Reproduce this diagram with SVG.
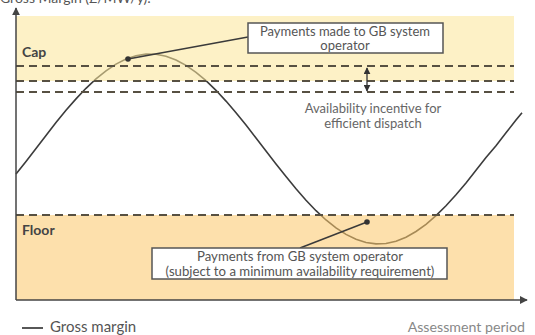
<svg xmlns="http://www.w3.org/2000/svg" width="535" height="335" viewBox="0 0 535 335">
<style>
  text { font-family: Lato, "Open Sans", "Liberation Sans", sans-serif; }
  .dash { stroke: #575042; stroke-width: 2; stroke-dasharray: 8 5; fill: none; }
  .axis { stroke: #444; stroke-width: 1.5; fill: none; }
  .lead { stroke: #3a3a3a; stroke-width: 1.5; fill: none; }
  .box { fill: #fff; stroke: #555; stroke-width: 1.5; }
  .lbl { font-size: 13px; fill: #555; text-anchor: middle; }
  .band { font-size: 14px; font-weight: bold; fill: #444; }
</style>
<defs>
  <marker id="ah" viewBox="0 0 10 10" refX="9" refY="5" markerWidth="8" markerHeight="8" markerUnits="userSpaceOnUse" orient="auto-start-reverse">
    <path d="M0,0 L10,5 L0,10 z" fill="#444"/>
  </marker>
  <marker id="ah2" viewBox="0 0 10 10" refX="9" refY="5" markerWidth="7" markerHeight="7" markerUnits="userSpaceOnUse" orient="auto-start-reverse">
    <path d="M0,0 L10,5 L0,10 z" fill="#333"/>
  </marker>
</defs>
<rect width="535" height="335" fill="#fff"/>
<text x="0" y="3" style="font-size:14px;fill:#555">Gross Margin (£/MW/y):</text>

<g id="curve">
  <polyline fill="none" stroke="#3c3c3c" stroke-width="1.6" points="16,174.1 26,161.4 36,148.4 46,135.4 56,122.6 66,110.3 76,98.9 86,88.3 96,78.9 106,70.8 116,64.1 126,59.1 136,55.7 146,54.1 156,54.3 166,56.3 176,60 186,65.4 196,72.3 206,80.7 216,90.3 226,101.1 236,112.7 246,125.1 256,138 266,151 276,163.9 286,176.6 296,188.8 306,200.2 316,210.7 326,220 336,227.9 346,234.4 356,239.3 366,242.5 376,243.9 386,243.5 396,241.2 406,237.2 416,231.5 426,224.3 436,215.6 446,205.7 456,194.7 466,182.9 476,170.3 486,157.5 496,145.7 506,132.8 516,120.1 522,112.7"/>
</g>

<g id="cap-band">
  <rect x="16" y="16" width="498" height="65" fill="#fce69a" fill-opacity="0.56"/>
  <text class="band" x="22" y="57">Cap</text>
</g>
<g id="floor-band">
  <rect x="16" y="215" width="498" height="85" fill="#fcc86b" fill-opacity="0.56"/>
  <text class="band" x="22" y="235">Floor</text>
</g>

<g id="connectors">
  <line class="dash" x1="16" y1="66" x2="514" y2="66"/>
  <line class="dash" x1="16" y1="81" x2="514" y2="81"/>
  <line class="dash" x1="16" y1="92" x2="514" y2="92"/>
  <line class="dash" x1="16" y1="215" x2="514" y2="215"/>
  <line class="axis" x1="16" y1="300" x2="16" y2="8" marker-end="url(#ah)"/>
  <line class="axis" x1="16" y1="300" x2="527" y2="300" marker-end="url(#ah)"/>
  <line stroke="#333" stroke-width="1.3" x1="367" y1="68" x2="367" y2="91" marker-start="url(#ah2)" marker-end="url(#ah2)"/>
  <line class="lead" x1="128" y1="59" x2="248" y2="37"/>
  <circle cx="128" cy="59" r="2.8" fill="#333"/>
  <line class="lead" x1="367" y1="222" x2="300" y2="248"/>
  <circle cx="367" cy="222" r="2.8" fill="#333"/>
</g>

<g id="callout-made">
  <rect class="box" x="248" y="23" width="195" height="30"/>
  <text class="lbl" x="345" y="35.5">Payments made to GB system</text>
  <text class="lbl" x="345" y="50">operator</text>
</g>

<g id="callout-from">
  <rect class="box" x="152" y="248" width="295" height="31"/>
  <text class="lbl" x="300" y="260.5" style="font-size:13.2px">Payments from GB system operator</text>
  <text class="lbl" x="300" y="275.5" style="font-size:13.2px">(subject to a minimum availability requirement)</text>
</g>

<g id="availability-label">
  <text class="lbl" x="373" y="113" style="fill:#666">Availability incentive for</text>
  <text class="lbl" x="373" y="128" style="fill:#666">efficient dispatch</text>
</g>

<g id="legend">
  <line x1="22" y1="328" x2="43" y2="328" stroke="#444" stroke-width="1.8"/>
  <text x="50" y="332" style="font-size:15px;fill:#555">Gross margin</text>
</g>
<g id="x-label">
  <text x="525" y="332" style="font-size:14.2px;fill:#888;text-anchor:end">Assessment period</text>
</g>
</svg>
